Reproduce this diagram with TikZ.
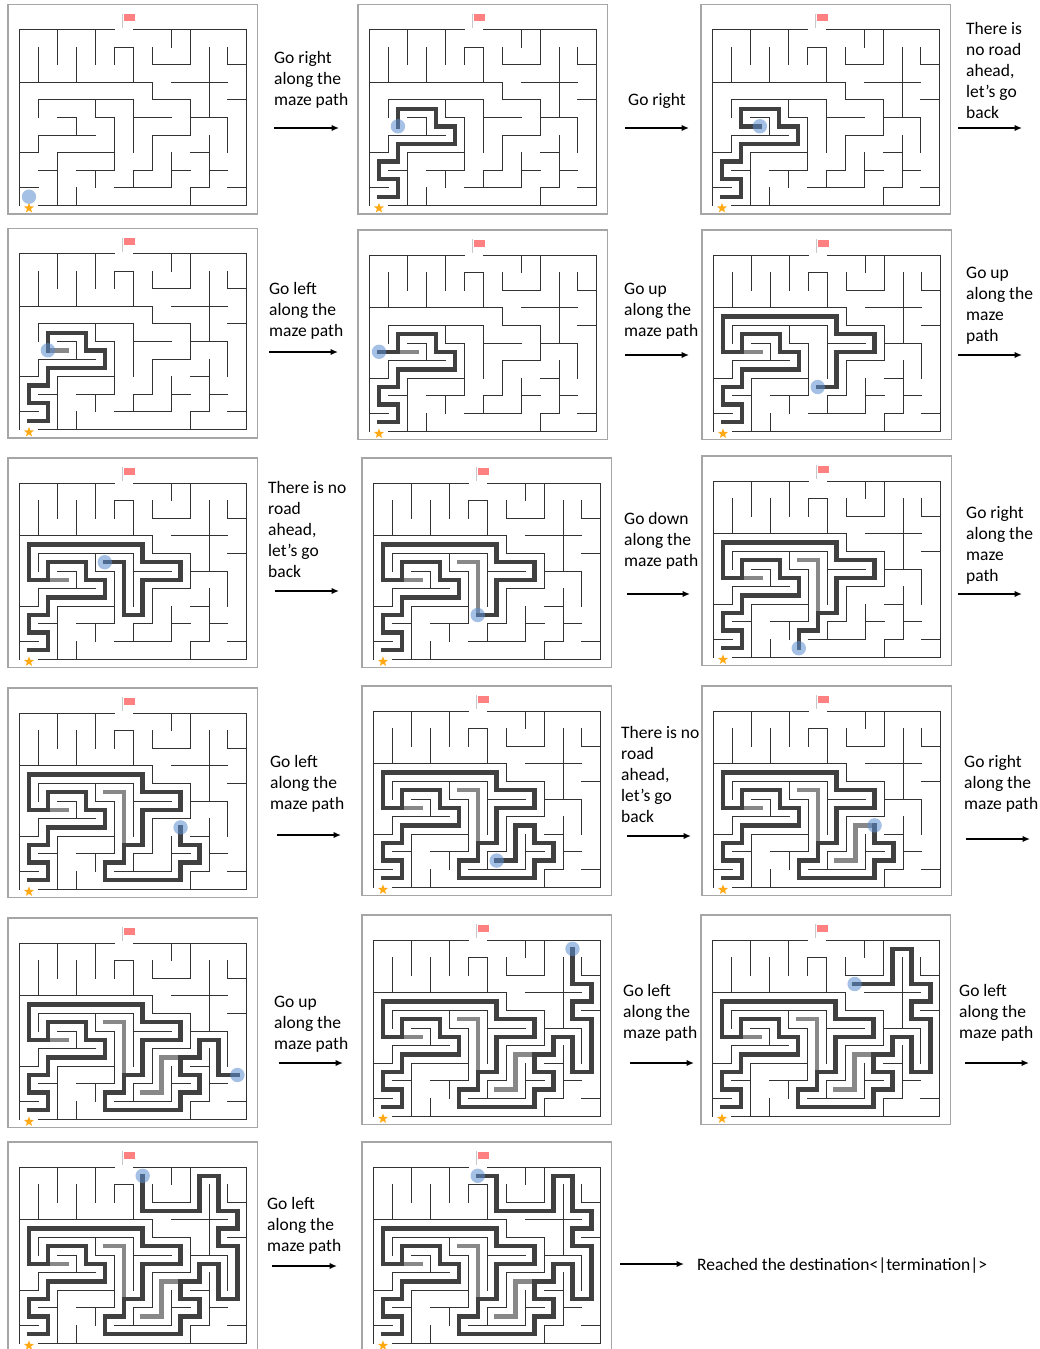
\documentclass[tikz,border=0pt]{standalone}
\usepackage{fontspec}
\setmainfont{Carlito}
\usetikzlibrary{shapes.geometric, arrows.meta}

\definecolor{boxgray}{RGB}{166,166,166}
\definecolor{poleg}{RGB}{200,200,200}
\definecolor{flagred}{RGB}{255,128,128}
\definecolor{stargold}{RGB}{255,170,20}
\definecolor{walldark}{RGB}{50,50,50}
\definecolor{routedark}{RGB}{64,64,64}
\definecolor{routegray}{RGB}{136,136,136}
\definecolor{dotblue}{RGB}{91,141,207}

\tikzset{
  panelbox/.style={draw=boxgray, line width=1.2pt},
  wallline/.style={draw=walldark, line width=1pt, line cap=rect},
  liveroute/.style={draw=routedark, line width=4.4pt, line cap=rect},
  deadroute/.style={draw=routegray, line width=4.4pt, line cap=rect},
  agentdot/.style={fill=dotblue, opacity=0.55},
  goalstar/.style={star, star points=5, star point ratio=2.4, minimum size=10.5pt, inner sep=0pt, fill=stargold},
  moveline/.style={->, line width=1.5pt},
  movetext/.style={anchor=north west, align=left, inner sep=0pt, yshift=-1.5pt, font=\fontsize{17.5}{21}\selectfont}
}

% Các bức tường của mê cung (đơn vị: ô)
\def\mazewalls{(0,0) -- (5,0) (6,0) -- (12,0) -- (12,10) -- (1,10) (0,0) -- (0,10)
  (2,0) -- (2,2) (4,0) -- (4,2) (1,1) -- (1,3) (3,1) -- (3,3)
  (5,2) -- (5,1) -- (6,1) -- (6,3)
  (0,3) -- (7,3) -- (7,4) -- (9,4) -- (9,6) -- (7,6) -- (7,8) -- (6,8) -- (6,9)
  (8,0) -- (8,1) (9,0) -- (9,2) -- (7,2) -- (7,1)
  (10,1) -- (10,5) (8,3) -- (11,3) (11,1) -- (11,2) -- (12,2) (11,4) -- (12,4)
  (9,5) -- (11,5) -- (11,7)
  (1,5) -- (1,4) -- (6,4) -- (6,7)
  (4,4) -- (4,5) -- (5,5) -- (5,8) -- (3,8)
  (6,5) -- (8,5) (2,5) -- (3,5) -- (3,6)
  (0,7) -- (1,7) -- (1,6) -- (4,6)
  (2,10) -- (2,7) -- (5,7) (1,8) -- (2,8) (0,9) -- (1,9)
  (3,10) -- (3,9) (4,8) -- (4,9)
  (5,9) -- (8,9) -- (8,7) (8,8) -- (9,8) (9,7) -- (10,7)
  (10,6) -- (10,9) -- (9,9) -- (9,10) (10,8) -- (11,8) (11,9) -- (12,9)}

% Các đoạn đường đi
\def\legA{(0.5,9.5) -- (1.5,9.5) -- (1.5,8.5) -- (0.5,8.5) -- (0.5,7.5) -- (1.5,7.5) -- (1.5,6.5) -- (4.5,6.5) -- (4.5,5.5) -- (3.5,5.5) -- (3.5,4.5) -- (1.5,4.5) -- (1.5,5.5)}
\def\legB{\legA -- (0.5,5.5) -- (0.5,3.5) -- (6.5,3.5) -- (6.5,4.5) -- (8.5,4.5) -- (8.5,5.5) -- (6.5,5.5) -- (6.5,7.5) -- (5.5,7.5)}
\def\legC{\legB -- (5.5,8.5) -- (4.5,8.5) -- (4.5,9.5)}
\def\legD{\legC -- (8.5,9.5) -- (8.5,8.5) -- (9.5,8.5) -- (9.5,7.5) -- (8.5,7.5) -- (8.5,6.5)}
\def\legE{\legD -- (9.5,6.5) -- (9.5,5.5) -- (10.5,5.5) -- (10.5,7.5) -- (11.5,7.5)}
\def\legF{\legE -- (11.5,4.5) -- (10.5,4.5) -- (10.5,3.5) -- (11.5,3.5) -- (11.5,2.5) -- (10.5,2.5) -- (10.5,0.5)}
\def\legG{\legF -- (9.5,0.5) -- (9.5,2.5) -- (6.5,2.5)}

% Các nhánh cụt
\def\deadA{(1.5,5.5) -- (2.5,5.5)}
\def\deadB{\deadA (4.5,4.5) -- (5.5,4.5) -- (5.5,7.5)}
\def\deadC{\deadB (8.5,6.5) -- (7.5,6.5) -- (7.5,8.5) -- (6.5,8.5)}

% #1 tên, #2 x, #3 y, #4 nhánh cụt, #5 đường đi, #6 vị trí chấm xanh
\newcommand{\mazepanel}[6]{
  \begin{scope}[shift={(#2,#3)}]
    \draw[panelbox] (0,0) rectangle (249.7,209.5);
    \draw[poleg, line width=1.3pt] (114.7,9) -- (114.7,23);
    \fill[flagred] (116,9.5) rectangle (127,16.5);
    \begin{scope}[shift={(11.5,25)}, x=18.95pt, y=-17.6pt]
      \draw[deadroute] #4;
      \draw[liveroute] #5;
      \draw[wallline] \mazewalls;
      \fill[agentdot] (#6) circle (7.2pt);
      \node[goalstar] (star#1) at (0.5,10.15) {};
    \end{scope}
  \end{scope}
}

\begin{document}
\begin{tikzpicture}[x=1pt, y=-1pt, >={Latex[length=7.5pt,width=6.5pt]}]
    \useasboundingbox (0,0) rectangle (1040,1349);

    % 1. Các ô mê cung
    \mazepanel{a}{8}{4.5}{}{}{0.5,9.5}
    \mazepanel{b}{358}{4.5}{}{\legA}{1.5,5.5}
    \mazepanel{c}{701}{4.5}{}{\legA -- (2.5,5.5)}{2.5,5.5}

    \mazepanel{d}{8}{228.5}{\deadA}{\legA}{1.5,5.5}
    \mazepanel{e}{358}{230}{\deadA}{\legA -- (0.5,5.5)}{0.5,5.5}
    \mazepanel{f}{702}{230}{\deadA}{\legB}{5.5,7.5}

    \mazepanel{g}{8}{458}{\deadA}{\legB -- (5.5,4.5) -- (4.5,4.5)}{4.5,4.5}
    \mazepanel{h}{362}{458}{\deadB}{\legB}{5.5,7.5}
    \mazepanel{i}{702}{456}{\deadB}{\legC}{4.5,9.5}

    \mazepanel{j}{8}{688}{\deadB}{\legD}{8.5,6.5}
    \mazepanel{k}{362}{686}{\deadB}{\legD -- (7.5,6.5) -- (7.5,8.5) -- (6.5,8.5)}{6.5,8.5}
    \mazepanel{l}{702}{686}{\deadC}{\legD}{8.5,6.5}

    \mazepanel{m}{8}{918}{\deadC}{\legE}{11.5,7.5}
    \mazepanel{n}{362}{915}{\deadC}{\legF}{10.5,0.5}
    \mazepanel{o}{701}{915}{\deadC}{\legF -- (9.5,0.5) -- (9.5,2.5) -- (7.5,2.5)}{7.5,2.5}

    \mazepanel{p}{8}{1142}{\deadC}{\legG -- (6.5,0.5)}{6.5,0.5}
    \mazepanel{q}{362}{1142}{\deadC}{\legG -- (6.5,0.5) -- (5.5,0.5)}{5.5,0.5}

    % 2. Các nhãn
    \node[movetext] (t1)  at (274,50)   {Go right\\along the\\maze path};
    \node[movetext] (t2)  at (628,92)   {Go right};
    \node[movetext] (t3)  at (966,21)   {There is\\no road\\ahead,\\let's go\\back};
    \node[movetext] (t4)  at (269,281)  {Go left\\along the\\maze path};
    \node[movetext] (t5)  at (624,281)  {Go up\\along the\\maze path};
    \node[movetext] (t6)  at (966,265)  {Go up\\along the\\maze\\path};
    \node[movetext] (t7)  at (268,480)  {There is no\\road\\ahead,\\let's go\\back};
    \node[movetext] (t8)  at (624,511)  {Go down\\along the\\maze path};
    \node[movetext] (t9)  at (966,505)  {Go right\\along the\\maze\\path};
    \node[movetext] (t10) at (270,754)  {Go left\\along the\\maze path};
    \node[movetext] (t11) at (621,725)  {There is no\\road\\ahead,\\let's go\\back};
    \node[movetext] (t12) at (964,754)  {Go right\\along the\\maze path};
    \node[movetext] (t13) at (274,994)  {Go up\\along the\\maze path};
    \node[movetext] (t14) at (623,983)  {Go left\\along the\\maze path};
    \node[movetext] (t15) at (959,983)  {Go left\\along the\\maze path};
    \node[movetext] (t16) at (267,1196) {Go left\\along the\\maze path};
    \node[movetext] (t17) at (697,1256) {Reached the destination<|termination|>};

    % 3. Các mũi tên
    \coordinate (s1)  at (274,128);   \coordinate (e1)  at (339,128);
    \coordinate (s2)  at (625,128);   \coordinate (e2)  at (689,128);
    \coordinate (s3)  at (958,128);   \coordinate (e3)  at (1022,128);
    \coordinate (s4)  at (269,352);   \coordinate (e4)  at (338,352);
    \coordinate (s5)  at (625,355);   \coordinate (e5)  at (689,355);
    \coordinate (s6)  at (958,355);   \coordinate (e6)  at (1022,355);
    \coordinate (s7)  at (275,591);   \coordinate (e7)  at (339,591);
    \coordinate (s8)  at (627,594);   \coordinate (e8)  at (690,594);
    \coordinate (s9)  at (958,594);   \coordinate (e9)  at (1022,594);
    \coordinate (s10) at (277,835);   \coordinate (e10) at (341,835);
    \coordinate (s11) at (627,836);   \coordinate (e11) at (691,836);
    \coordinate (s12) at (966,839);   \coordinate (e12) at (1030,839);
    \coordinate (s13) at (279,1063);  \coordinate (e13) at (343,1063);
    \coordinate (s14) at (630,1063);  \coordinate (e14) at (694,1063);
    \coordinate (s15) at (965,1063);  \coordinate (e15) at (1029,1063);
    \coordinate (s16) at (272,1266);  \coordinate (e16) at (337,1266);
    \coordinate (s17) at (620,1264);  \coordinate (e17) at (684,1264);
    \foreach \i in {1,...,17}
      \draw[moveline] (s\i) -- (e\i);

\end{tikzpicture}
\end{document}
